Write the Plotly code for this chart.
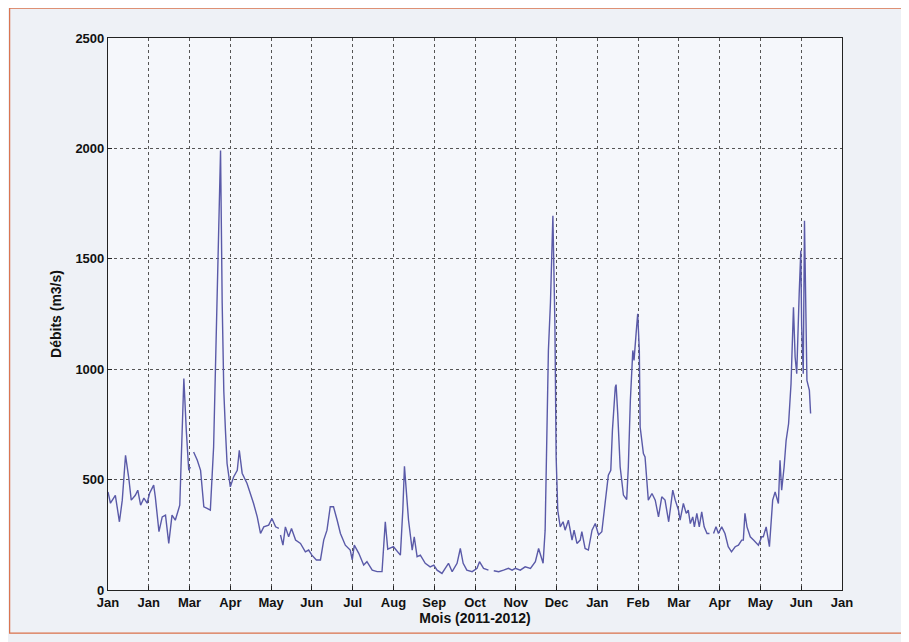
import plotly.graph_objects as go

# x position in month units (0 = first "Jan" tick, 18 = last tick)
months = [
    0.00, 0.06, 0.18, 0.28, 0.35, 0.43, 0.51, 0.57, 0.67, 0.73, 0.80, 0.88, 0.96, 1.02, 1.12, 1.16,
    1.25, 1.33, 1.41, 1.49, 1.57, 1.65, 1.76, 1.82, 1.86, 1.92, 1.98, 2.02, 2.06, 2.10, 2.19, 2.27,
    2.35, 2.43, 2.51, 2.59, 2.63, 2.70, 2.76, 2.80, 2.84, 2.88, 2.92, 3.00, 3.08, 3.17, 3.22, 3.29,
    3.41, 3.57, 3.66, 3.74, 3.82, 3.94, 4.02, 4.11, 4.19, 4.21, 4.23, 4.29, 4.35, 4.43, 4.50, 4.60,
    4.72, 4.84, 4.92, 5.00, 5.11, 5.21, 5.29, 5.37, 5.45, 5.53, 5.62, 5.70, 5.82, 5.94, 5.99, 6.04,
    6.15, 6.27, 6.35, 6.48, 6.60, 6.72, 6.80, 6.86, 7.00, 7.17, 7.23, 7.27, 7.37, 7.46, 7.51, 7.58,
    7.66, 7.78, 7.90, 7.99, 8.07, 8.19, 8.27, 8.35, 8.44, 8.56, 8.64, 8.71, 8.80, 8.93, 9.05, 9.11,
    9.21, 9.33, 9.40, 9.46, 9.58, 9.70, 9.82, 9.91, 9.99, 10.11, 10.23, 10.36, 10.48, 10.56, 10.67,
    10.72, 10.76, 10.80, 10.85, 10.91, 10.96, 10.99, 11.03, 11.09, 11.16, 11.21, 11.29, 11.38, 11.43,
    11.50, 11.58, 11.62, 11.70, 11.78, 11.87, 11.95, 12.03, 12.11, 12.19, 12.27, 12.33, 12.37, 12.44,
    12.46, 12.50, 12.56, 12.64, 12.72, 12.76, 12.81, 12.87, 12.90, 12.95, 12.99, 13.03, 13.05, 13.13,
    13.17, 13.25, 13.34, 13.42, 13.50, 13.58, 13.66, 13.75, 13.85, 13.91, 13.99, 14.03, 14.11, 14.18,
    14.23, 14.28, 14.34, 14.38, 14.44, 14.50, 14.56, 14.62, 14.69, 14.75, 14.80, 14.85, 14.91, 14.97,
    15.05, 15.13, 15.21, 15.29, 15.38, 15.46, 15.54, 15.58, 15.62, 15.67, 15.75, 15.83, 15.95, 16.03,
    16.07, 16.14, 16.22, 16.30, 16.36, 16.44, 16.48, 16.52, 16.58, 16.63, 16.69, 16.75, 16.81, 16.85,
    16.89, 16.95, 16.99, 17.01, 17.05, 17.08, 17.11, 17.14, 17.20, 17.23,
]

# daily discharge (m3/s); None = missing data
debits = [
    444, 393, 429, 309, 407, 610, 506, 407, 429, 452, 384, 416, 393, 438, 475, 422,
    264, 331, 339, 211, 339, 316, 384, 768, 958, 723, 542, 557, None, 625, 588, 542,
    377, 370, 362, 648, 949, 1450, 1990, 1300, 900, 723, 573, 467, 512, 542, 633, 529,
    482, 392, 331, 256, 286, 294, 324, 286, 279, None, 249, 203, 286, 241, 279, 226,
    211, 173, 181, 158, 136, 136, 226, 271, 377, 377, 316, 256, 203, 181, 136, 203,
    166, 113, 128, 90, 83, 83, 309, 185, 196, 158, 362, 560, 316, 181, 241, 151,
    158, 121, 105, 113, 90, 75, 98, 121, 83, 121, 188, 121, 90, 83, 98, 128,
    98, 90, None, 87, 83, 90, 98, 90, 98, 90, 105, 98, 128, 188, 121,
    271, 648, 1085, 1300, 1695, 1200, 600, 360, 286, 309, 271, 316, 226, 271,
    211, 226, 264, 188, 181, 271, 301, 249, 264, 392, 520, 542, 723, 919,
    930, 800, 557, 430, 410, 557, 859, 1085, 1040, 1160, 1251, 1085, 738, 618,
    603, 407, 437, 407, 331, 422, 407, 309, 452, 407, 362, 316, 392, 347,
    362, 301, 331, 286, 347, 286, 354, 286, 256, 256, None, 256, 286, 256,
    286, 256, 196, 173, 196, 203, 226, 226, 347, 286, 241, 226, 203, 241,
    241, 286, 196, 407, 444, 392, 588, 452, 557, 678, 753, 934, 1280, 1055,
    980, 1341, 1537, 1198, 980, 1672, 1386, 949, 904, 799,
]

tick_pos = list(range(19))
tick_text = ["Jan", "Jan", "Mar", "Apr", "May", "Jun", "Jul", "Aug", "Sep", "Oct",
             "Nov", "Dec", "Jan", "Feb", "Mar", "Apr", "May", "Jun", "Jan"]
y_ticks = [0, 500, 1000, 1500, 2000, 2500]

fig = go.Figure()
fig.add_trace(go.Scatter(
    x=months, y=debits, mode="lines",
    line=dict(color="#5a5aa8", width=1.4),
    connectgaps=False, showlegend=False,
))

FONT = "Arial, Liberation Sans, sans-serif"
tick_font = dict(family=FONT, size=13, color="#111", weight="bold")
title_font = dict(family=FONT, size=14, color="#111")

fig.update_layout(
    width=909, height=642,
    margin=dict(l=100, r=75, t=30, b=60),
    paper_bgcolor="#eef1f6",
    plot_bgcolor="#f5f7fb",
    font=dict(family=FONT, size=13, color="#111"),
    xaxis=dict(
        range=[0, 18], tickvals=tick_pos, ticktext=tick_text,
        showgrid=True, gridcolor="#555", griddash="dot", gridwidth=1,
        showline=True, linecolor="#222", linewidth=1.2, mirror=True,
        ticks="inside", ticklen=4, tickcolor="#222",
        tickfont=tick_font,
        title=dict(text="<b>Mois (2011-2012)</b>", standoff=2, font=title_font),
        zeroline=False,
    ),
    yaxis=dict(
        range=[0, 2500], tickvals=y_ticks,
        showgrid=True, gridcolor="#555", griddash="dot", gridwidth=1,
        showline=True, linecolor="#222", linewidth=1.2, mirror=True,
        ticks="inside", ticklen=4, tickcolor="#222",
        tickfont=tick_font,
        title=dict(text="<b>Débits (m3/s)</b>", standoff=10, font=title_font),
        zeroline=False,
    ),
    shapes=[
        dict(type="rect", xref="paper", yref="paper", x0=-0.134, x1=1.2, y0=-0.078, y1=1.054,
             line=dict(color="#d9704a", width=1.2), fillcolor="rgba(0,0,0,0)", layer="below"),
    ],
)

fig.write_html("out.html")
